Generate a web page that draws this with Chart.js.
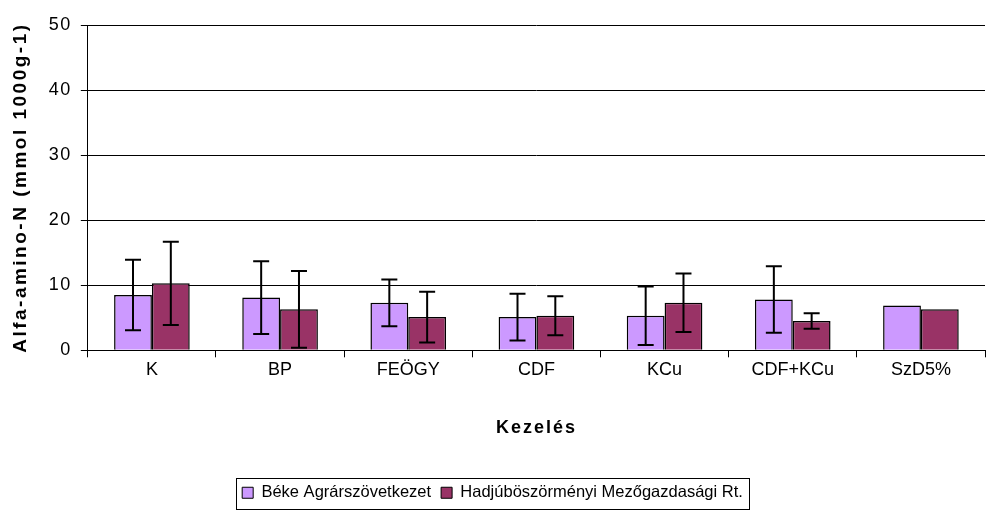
<!DOCTYPE html>
<html>
<head>
<meta charset="utf-8">
<script src="https://cdn.jsdelivr.net/npm/chart.js@4/dist/chart.umd.min.js"></script>
<style>
  body { margin: 0; background: #fff; }
  #wrap { width: 988px; height: 511px; }
</style>
</head>
<body>
<div id="wrap"><canvas id="grafico" width="988" height="511"></canvas></div>
<script>
const kezelesek = ['K', 'BP', 'FEÖGY', 'CDF', 'KCu', 'CDF+KCu', 'SzD5%'];
const bekeErtekek = [8.5, 8.1, 7.3, 5.1, 5.3, 7.8, 6.9];
const bekeHibak = [5.4, 5.6, 3.6, 3.6, 4.5, 5.1, null];
const hadjuErtekek = [10.3, 6.3, 5.1, 5.3, 7.3, 4.5, 6.3];
const hadjuHibak = [6.4, 5.9, 3.9, 3.0, 4.5, 1.2, null];
const yTicks = [0, 10, 20, 30, 40, 50];

const betu = 'Liberation Sans, Arial, sans-serif';

// hibasavok rajzolasa
const hibasavPlugin = {
    id: 'hibasav',
    afterDatasetsDraw(chart) {
        const ctx = chart.ctx;
        const y = chart.scales.y;
        chart.data.datasets.forEach((ds, i) => {
            const meta = chart.getDatasetMeta(i);
            meta.data.forEach((bar, j) => {
                const e = ds.hibak[j];
                if (e == null) return;
                const v = ds.data[j];
                const yt = y.getPixelForValue(v + e);
                const yb = y.getPixelForValue(Math.max(v - e, 0));
                ctx.save();
                ctx.strokeStyle = '#000';
                ctx.lineWidth = 2;
                ctx.beginPath();
                ctx.moveTo(bar.x, yt); ctx.lineTo(bar.x, yb);
                ctx.moveTo(bar.x - 8, yt); ctx.lineTo(bar.x + 8, yt);
                ctx.moveTo(bar.x - 8, yb); ctx.lineTo(bar.x + 8, yb);
                ctx.stroke();
                ctx.restore();
            });
        });
    }
};

// ritkitott betukoz a tengelycimekhez es az y feliratokhoz
function ritkit(sc, fv, koz) {
    const eredeti = sc[fv];
    sc[fv] = function (...args) {
        const ctx = this.ctx;
        ctx.save();
        ctx.letterSpacing = koz;
        eredeti.apply(this, args);
        ctx.restore();
    };
}
const betukozPlugin = {
    id: 'betukoz',
    afterUpdate(chart) {
        const x = chart.scales.x, y = chart.scales.y;
        if (y._ritkitva) return;
        y._ritkitva = true;
        ritkit(x, 'drawTitle', '2px');
        ritkit(y, 'drawTitle', '2.5px');
        ritkit(y, 'drawLabels', '1.5px');
    }
};

// keret a jelmagyarazat kore
const legendKeret = {
    id: 'legendKeret',
    afterDraw(chart) {
        const boxes = chart.legend.legendHitBoxes;
        if (!boxes || !boxes.length) return;
        let x0 = Infinity, x1 = -Infinity, y0 = Infinity, y1 = -Infinity;
        boxes.forEach(b => {
            x0 = Math.min(x0, b.left); x1 = Math.max(x1, b.left + b.width);
            y0 = Math.min(y0, b.top); y1 = Math.max(y1, b.top + b.height);
        });
        const ctx = chart.ctx;
        ctx.save();
        ctx.strokeStyle = '#000';
        ctx.lineWidth = 1;
        ctx.strokeRect(Math.round(x0 - 6) + 0.5, Math.round(y0 - 7) + 0.5, Math.round(x1 - x0 + 12), Math.round(y1 - y0 + 14));
        ctx.restore();
    }
};

new Chart(document.getElementById('grafico'), {
    type: 'bar',
    data: {
        labels: kezelesek,
        datasets: [{
            label: 'Béke Agrárszövetkezet',
            data: bekeErtekek,
            hibak: bekeHibak,
            backgroundColor: '#cc99ff',
            borderColor: '#000',
            borderWidth: 1.5,
            categoryPercentage: 0.59,
            barPercentage: 1
        }, {
            label: 'Hadjúböszörményi Mezőgazdasági Rt.',
            data: hadjuErtekek,
            hibak: hadjuHibak,
            backgroundColor: '#993366',
            borderColor: '#000',
            borderWidth: 1.5,
            categoryPercentage: 0.59,
            barPercentage: 1
        }]
    },
    options: {
        responsive: false,
        animation: false,
        layout: { padding: { top: 25, right: 3, left: 0, bottom: 0 } },
        plugins: {
            legend: {
                position: 'bottom',
                labels: {
                    color: '#000',
                    font: { family: betu, size: 16.5 },
                    boxWidth: 11,
                    boxHeight: 11,
                    padding: 10,
                    generateLabels(chart) {
                        return chart.data.datasets.map((ds, i) => ({
                            text: ds.label,
                            fillStyle: ds.backgroundColor,
                            strokeStyle: '#000',
                            lineWidth: 1,
                            fontColor: '#000',
                            datasetIndex: i
                        }));
                    }
                }
            },
            tooltip: { enabled: false }
        },
        scales: {
            x: {
                grid: { offset: true, drawOnChartArea: false, color: '#000', tickLength: 7 },
                border: { color: '#000', width: 1 },
                ticks: { color: '#000', font: { family: betu, size: 18 }, padding: 2 },
                title: {
                    display: true,
                    text: 'Kezelés',
                    color: '#000',
                    font: { family: betu, size: 18, weight: 'bold' },
                    padding: { top: 34, bottom: 36 }
                }
            },
            y: {
                min: 0,
                max: 50,
                afterBuildTicks(axis) { axis.ticks = yTicks.map(v => ({ value: v })); },
                grid: { color: '#000', tickLength: 7 },
                border: { color: '#000', width: 1 },
                ticks: { color: '#000', font: { family: betu, size: 18 }, padding: 9 },
                title: {
                    display: true,
                    text: 'Alfa-amino-N (mmol 1000g-1)',
                    color: '#000',
                    font: { family: betu, size: 19, weight: 'bold' },
                    padding: { top: 9, bottom: 11 }
                }
            }
        }
    },
    plugins: [hibasavPlugin, betukozPlugin, legendKeret]
});
</script>
</body>
</html>
